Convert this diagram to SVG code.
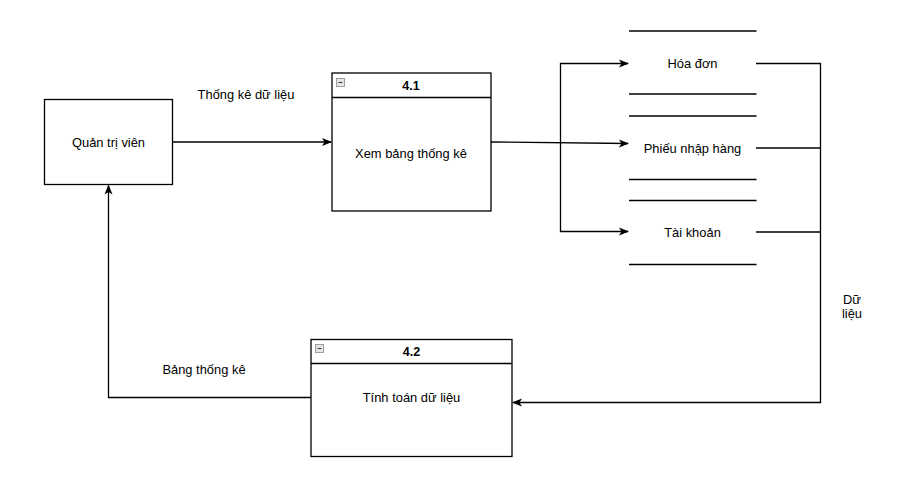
<svg xmlns="http://www.w3.org/2000/svg" width="922" height="489" viewBox="0 0 922 489">
<style>
text{font-family:"Liberation Sans",Arial,sans-serif;font-size:12.9px;fill:#000;text-anchor:middle}
.b{font-weight:bold;font-size:12.5px}
.box{fill:#fff;stroke:#000;stroke-width:1.3}
.ln{fill:none;stroke:#000;stroke-width:1.3}
.ic{fill:#e6e6e6;stroke:#888;stroke-width:0.8}
</style>
<defs>
<marker id="ah" viewBox="0 0 10 10" refX="9" refY="5" markerWidth="10" markerHeight="10" markerUnits="userSpaceOnUse" orient="auto">
<path d="M0,1 L10,5 L0,9 L2.5,5 Z" fill="#000"/>
</marker>
</defs>
<rect width="922" height="489" fill="#fff"/>
<g id="connectors">
<path class="ln" d="M172.5,142 L331,142" marker-end="url(#ah)"/>
<path class="ln" d="M491,142 L628,143.5" marker-end="url(#ah)"/>
<path class="ln" d="M560.5,142 L560.5,63.5 L628,63.5" marker-end="url(#ah)"/>
<path class="ln" d="M560.5,142 L560.5,231.5 L628,231.5" marker-end="url(#ah)"/>
<path class="ln" d="M756,63.5 L820.5,63.5 L820.5,402.5 L513,402.5" marker-end="url(#ah)"/>
<path class="ln" d="M756,148 L820.5,148"/>
<path class="ln" d="M756,232 L820.5,232"/>
<path class="ln" d="M311,397.5 L108.5,397.5 L108.5,185.5" marker-end="url(#ah)"/>
<text x="246" y="99">Thống kê dữ liệu</text>
<text x="204" y="374">Bảng thống kê</text>
<text x="852" y="304">Dữ</text>
<text x="852" y="318">liệu</text>
</g>
<g id="n-admin">
<rect class="box" x="44.5" y="99.5" width="128" height="85"/>
<text x="108.5" y="146.5">Quản trị viên</text>
</g>
<g id="n-41">
<rect class="box" x="332" y="73" width="159" height="138"/>
<line class="ln" x1="332" y1="97.5" x2="491" y2="97.5"/>
<rect class="ic" x="336.5" y="78.5" width="8" height="8"/>
<line x1="338.5" y1="82.5" x2="342.5" y2="82.5" stroke="#333" stroke-width="1"/>
<text class="b" x="411" y="90">4.1</text>
<text x="411" y="158">Xem bảng thống kê</text>
</g>
<g id="n-hoadon">
<line class="ln" x1="629" y1="31" x2="756.5" y2="31"/>
<line class="ln" x1="629" y1="94" x2="756.5" y2="94"/>
<text x="692.5" y="67.5">Hóa đơn</text>
</g>
<g id="n-phieu">
<line class="ln" x1="629" y1="116" x2="756.5" y2="116"/>
<line class="ln" x1="629" y1="179.5" x2="756.5" y2="179.5"/>
<text x="692.5" y="152.5">Phiếu nhập hàng</text>
</g>
<g id="n-taikhoan">
<line class="ln" x1="629" y1="200.5" x2="756.5" y2="200.5"/>
<line class="ln" x1="629" y1="264.5" x2="756.5" y2="264.5"/>
<text x="692.5" y="236.5">Tài khoản</text>
</g>
<g id="n-42">
<rect class="box" x="311" y="339.5" width="201" height="117"/>
<line class="ln" x1="311" y1="363.5" x2="512" y2="363.5"/>
<rect class="ic" x="315.5" y="344.5" width="8" height="8"/>
<line x1="317.5" y1="348.5" x2="321.5" y2="348.5" stroke="#333" stroke-width="1"/>
<text class="b" x="411.5" y="356">4.2</text>
<text x="411.5" y="401.5">Tính toán dữ liệu</text>
</g>
</svg>
